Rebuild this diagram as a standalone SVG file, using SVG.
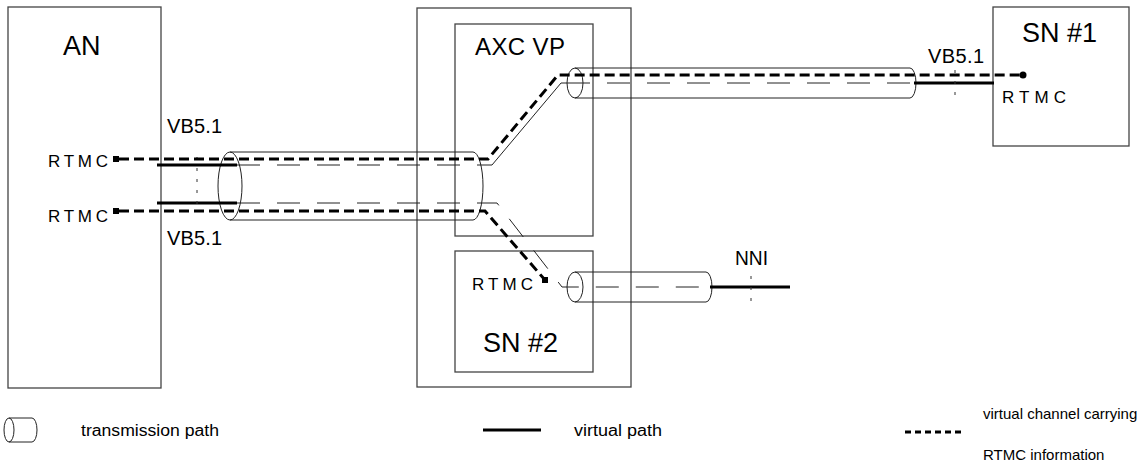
<svg xmlns="http://www.w3.org/2000/svg" width="1142" height="468" viewBox="0 0 1142 468">
<defs>
<style>
.box{fill:none;stroke:#444;stroke-width:1.3}
.tube{fill:none;stroke:#222;stroke-width:1}
.vc{fill:none;stroke:#000;stroke-width:3;stroke-dasharray:10 5}
.vp{fill:none;stroke:#000;stroke-width:3}
.vpi{fill:none;stroke:#222;stroke-width:1;stroke-dasharray:23 17}
.thin{fill:none;stroke:#222;stroke-width:1}
.tick{fill:none;stroke:#333;stroke-width:1;stroke-dasharray:3 8}
text{font-family:"Liberation Sans",Arial,sans-serif;fill:#000}
.big{font-size:27px}
.mid{font-size:24px}
.lab{font-size:17px}
.vb{font-size:20px}
.leg{font-size:16px}
.leg2{font-size:15px}
</style>
</defs>
<rect width="1142" height="468" fill="#fff"/>
<g id="AN">
<rect class="box" x="8" y="7" width="153" height="381"/>
<text class="big" x="63" y="55">AN</text>
<text class="lab" x="48" y="167" textLength="60" lengthAdjust="spacing">RTMC</text>
<text class="lab" x="48" y="222" textLength="60" lengthAdjust="spacing">RTMC</text>
</g>
<g id="outer">
<rect class="box" x="417" y="8" width="214" height="379"/>
</g>
<g id="AXC_VP">
<rect class="box" x="455" y="24" width="138" height="212"/>
<text class="mid" x="475" y="55" textLength="90" lengthAdjust="spacing">AXC VP</text>
</g>
<g id="SN2">
<rect class="box" x="455" y="251" width="138" height="121"/>
<text class="big" x="483" y="352">SN #2</text>
<text class="lab" x="472" y="290" textLength="61" lengthAdjust="spacing">RTMC</text>
</g>
<g id="SN1">
<rect class="box" x="993" y="7" width="136" height="139"/>
<text class="big" x="1022" y="42">SN #1</text>
<text class="lab" x="1002" y="103" textLength="64" lengthAdjust="spacing">RTMC</text>
</g>
<g id="labels">
<text class="vb" x="167" y="133" textLength="55" lengthAdjust="spacing">VB5.1</text>
<text class="vb" x="167" y="245" textLength="55" lengthAdjust="spacing">VB5.1</text>
<text class="vb" x="928" y="63" textLength="56" lengthAdjust="spacing">VB5.1</text>
<text class="vb" x="735" y="265" textLength="33" lengthAdjust="spacingAndGlyphs">NNI</text>
</g>
<g id="connectors">
<ellipse class="tube" cx="230" cy="186" rx="12" ry="34"/>
<path class="tube" d="M230,152 H473 A10,34 0 0 1 473,220 H230"/>
<ellipse class="tube" cx="575" cy="83" rx="8" ry="15"/>
<path class="tube" d="M575,68 H910 A6,15 0 0 1 910,98 H575"/>
<ellipse class="tube" cx="575" cy="287" rx="8" ry="15"/>
<path class="tube" d="M575,272 H706 A6,15 0 0 1 706,302 H575"/>
<path class="vp" d="M157,165 H237 M157,203 H237"/>
<path class="vpi" d="M237,165 H483"/>
<path class="thin" d="M483,165 H492 L561,83 H567"/>
<path class="vpi" d="M567,83 H912"/>
<path class="vp" d="M914,83 H994"/>
<path class="vpi" d="M237,203 H497 L562,287 H708"/>
<path class="vp" d="M710,287 H790"/>
<path class="tick" d="M197,157 V212 M955,70 V98 M751,276 V302"/>
<path class="vc" d="M119,159 H488 L558,75 H1020"/>
<circle cx="1023" cy="75" r="3.5" fill="#000"/>
<path class="vc" d="M119,211 H485 L545,280"/>
<rect x="113" y="156" width="6" height="6" fill="#000"/>
<rect x="113" y="208" width="6" height="6" fill="#000"/>
<rect x="542" y="277" width="6" height="6" fill="#000"/>
</g>
<g id="legend">
<ellipse class="tube" cx="9" cy="430" rx="5" ry="12"/>
<path class="tube" d="M9,418 H32 A5,12 0 0 1 32,442 H9"/>
<text class="leg" x="81" y="436" textLength="138" lengthAdjust="spacingAndGlyphs">transmission path</text>
<path class="vp" d="M483,430 H541"/>
<text class="leg" x="574" y="436" textLength="88" lengthAdjust="spacingAndGlyphs">virtual path</text>
<path class="vc" d="M905,432 H963" style="stroke-dasharray:6 4"/>
<text class="leg2" x="983" y="419">virtual channel carrying</text>
<text class="leg2" x="983" y="460">RTMC information</text>
</g>
</svg>
